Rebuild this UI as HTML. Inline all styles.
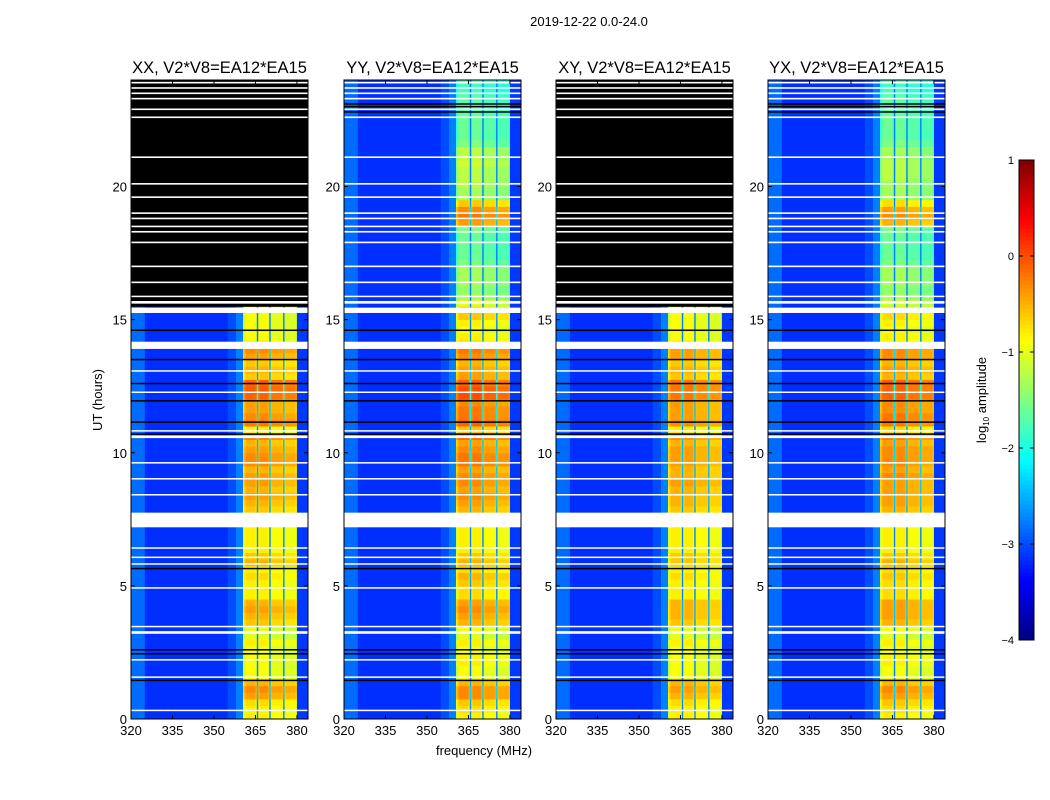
<!DOCTYPE html>
<html><head><meta charset="utf-8">
<style>
html,body{margin:0;padding:0;background:#fff;}
svg{display:block;font-family:"Liberation Sans","DejaVu Sans",sans-serif;}
</style></head>
<body>
<svg id="fig" width="1050" height="800" viewBox="0 0 1050 800">
<rect x="0" y="0" width="1050" height="800" fill="#fff"/>
<text x="589" y="26" font-size="13" text-anchor="middle">2019-12-22 0.0-24.0</text>
<text x="484" y="755" font-size="13" text-anchor="middle">frequency (MHz)</text>
<text transform="translate(102,400) rotate(-90)" font-size="13" text-anchor="middle">UT (hours)</text>
<g id="panels"></g>
<g id="cbar"></g>
</svg>
<script>
// ---- data ----
const N = null;
const panelTitles = ["XX, V2*V8=EA12*EA15","YY, V2*V8=EA12*EA15","XY, V2*V8=EA12*EA15","YX, V2*V8=EA12*EA15"];
const xTicks = [320,335,350,365,380];
const yTicks = [0,5,10,15,20];
const cbTicks = [1,0,-1,-2,-3,-4];
// channel baseline noise (log10), 128 channels of 0.5 MHz, 320..384 MHz
const noiseLevel = [
 -2.85,-2.85,-2.85,-2.85,-2.85,-2.85,-2.85,-2.85,-2.85,-2.85,-3.15,-3.15,-3.15,-3.15,-3.15,-3.15,
 -3.15,-3.15,-3.15,-3.15,-3.15,-3.15,-3.15,-3.15,-3.15,-3.15,-3.15,-3.15,-3.15,-3.15,-3.15,-3.15,
 -3.15,-3.15,-3.15,-3.15,-3.15,-3.15,-3.15,-3.15,-3.15,-3.15,-3.15,-3.15,-3.15,-3.15,-3.15,-3.15,
 -3.15,-3.15,-3.15,-3.15,-3.15,-3.15,-3.15,-3.15,-3.15,-3.15,-3.15,-3.15,-3.15,-3.15,-3.15,-3.15,
 -3.15,-3.15,-3.15,-3.15,-3.15,-3.15,-3.0,-3.0,-3.0,-3.0,-3.0,-3.0,-2.75,-2.75,-2.75,-2.75,
 -2.75,-2.75,-2.75,-2.75,-2.75,-2.75,-2.75,-2.75,-2.75,-2.75,-2.75,-2.75,-2.75,-2.75,-2.75,-2.75,
 -2.75,-2.75,-2.75,-2.75,-2.75,-2.75,-2.75,-2.75,-2.75,-2.75,-2.75,-2.75,-2.75,-2.75,-2.75,-2.75,
 -2.75,-2.75,-2.75,-2.75,-2.75,-2.75,-2.75,-2.75,-3.1,-3.1,-3.1,-3.1,-3.1,-3.1,-3.1,-3.1];
// in-band gain relative to row band level (null = outside band)
const bandGain = [
 N,N,N,N,N,N,N,N,N,N,N,N,N,N,N,N,
 N,N,N,N,N,N,N,N,N,N,N,N,N,N,N,N,
 N,N,N,N,N,N,N,N,N,N,N,N,N,N,N,N,
 N,N,N,N,N,N,N,N,N,N,N,N,N,N,N,N,
 N,N,N,N,N,N,N,N,N,N,N,N,N,N,N,N,
 N,-0.3,-0.1,0,0,0,0,0,0,0,-0.1,-2.0,-0.1,0,0,0,
 0,0,0,-0.1,-2.0,-0.15,-0.1,-0.1,-0.1,-0.1,-0.1,-0.1,-0.1,-0.15,-2.0,-0.2,
 -0.15,-0.15,-0.15,-0.15,-0.15,-0.15,-0.15,-0.25,N,N,N,N,N,N,N,N];
// band level per quarter hour (96 rows, 0..24h); null = no data (black)
const bandXX = [
 -0.8,-0.8,-0.7,-0.4,-0.3,-0.5,-0.9,-0.9,-0.9,-0.9,-0.9,-0.8,-1.0,-1.0,-0.6,-0.5,
 -0.4,-0.5,-0.8,-0.8,-0.8,-0.7,-0.8,-0.5,-0.6,-0.8,-0.8,-0.8,-0.8,-0.8,-0.8,-0.6,
 -0.5,-0.4,-0.5,-0.4,-0.4,-0.5,-0.3,-0.3,-0.4,-0.5,-0.2,-0.8,-0.2,-0.3,-0.4,-0.4,
 -0.1,-0.05,-0.1,-0.6,-0.5,-0.6,-0.4,-0.3,-0.8,-0.9,-0.9,-0.9,-0.9,-0.9,N,N,
 N,N,N,N,N,N,N,N,N,N,N,N,N,N,N,N,
 N,N,N,N,N,N,N,N,N,N,N,N,N,N,N,N];
const bandYY = [
 -0.8,-0.7,-0.6,-0.3,-0.3,-0.5,-0.9,-0.9,-0.8,-0.8,-0.9,-0.8,-1.0,-0.9,-0.5,-0.4,
 -0.3,-0.4,-0.7,-0.7,-0.6,-0.5,-0.7,-0.5,-0.6,-0.8,-0.8,-0.8,-0.8,-0.8,-0.8,-0.5,
 -0.4,-0.3,-0.4,-0.3,-0.3,-0.4,-0.2,-0.2,-0.3,-0.4,-0.1,-0.6,-0.1,-0.2,-0.2,-0.3,
 0.0,0.0,-0.1,-0.4,-0.4,-0.5,-0.3,-0.2,-0.7,-0.8,-0.9,-0.8,-0.6,-0.6,-1.0,-1.3,
 -1.4,-1.3,-1.3,-1.3,-1.5,-1.6,-1.6,-1.6,-1.6,-1.5,-0.4,-0.2,-0.3,-0.6,-1.3,-1.3,
 -1.2,-1.2,-1.2,-1.1,-1.2,-1.2,-1.5,-1.6,-1.6,-1.6,-1.6,-1.7,-1.7,-1.7,-1.8,-1.8];
const bandXY = [
 -0.8,-0.8,-0.7,-0.5,-0.4,-0.5,-0.9,-0.9,-0.9,-0.9,-0.9,-0.8,-1.0,-1.0,-0.6,-0.5,
 -0.5,-0.5,-0.8,-0.8,-0.8,-0.7,-0.8,-0.6,-0.6,-0.8,-0.8,-0.8,-0.8,-0.8,-0.8,-0.6,
 -0.5,-0.5,-0.5,-0.4,-0.5,-0.5,-0.4,-0.4,-0.4,-0.5,-0.3,-0.8,-0.3,-0.4,-0.4,-0.4,
 -0.2,-0.2,-0.2,-0.6,-0.5,-0.6,-0.4,-0.4,-0.8,-0.9,-0.9,-0.9,-0.9,-0.9,N,N,
 N,N,N,N,N,N,N,N,N,N,N,N,N,N,N,N,
 N,N,N,N,N,N,N,N,N,N,N,N,N,N,N,N];
const bandYX = [
 -0.8,-0.7,-0.6,-0.4,-0.3,-0.5,-0.9,-0.9,-0.8,-0.8,-0.9,-0.8,-1.0,-0.9,-0.5,-0.4,
 -0.4,-0.4,-0.7,-0.7,-0.7,-0.6,-0.7,-0.5,-0.6,-0.8,-0.8,-0.8,-0.8,-0.8,-0.8,-0.5,
 -0.4,-0.4,-0.4,-0.4,-0.3,-0.4,-0.3,-0.3,-0.3,-0.4,-0.2,-0.7,-0.2,-0.2,-0.3,-0.3,
 -0.1,-0.1,-0.1,-0.5,-0.4,-0.5,-0.3,-0.3,-0.8,-0.8,-0.9,-0.8,-0.7,-0.7,-1.1,-1.3,
 -1.4,-1.3,-1.3,-1.3,-1.5,-1.6,-1.6,-1.6,-1.6,-1.5,-0.5,-0.3,-0.4,-0.7,-1.3,-1.3,
 -1.3,-1.2,-1.2,-1.2,-1.3,-1.3,-1.5,-1.6,-1.6,-1.6,-1.6,-1.7,-1.7,-1.7,-1.8,-1.8];
// flagged (white) time intervals hours
const whiteStart = [7.2,13.9,15.25,0.3,1.55,2.2,3.2,3.45,4.9,5.8,6.05,6.4,8.4,9.0,9.6,10.55,10.8,12.25,13.05,15.6,15.85];
const whiteEnd   = [7.75,14.17,15.45,0.35,1.6,2.25,3.3,3.5,4.95,5.85,6.1,6.45,8.45,9.05,9.65,10.65,10.85,12.3,13.1,15.7,15.9];
// thin white lines in upper (15.5-24h) region
const upperWhite = [16.4,17.0,17.9,18.3,18.5,18.8,19.0,19.6,20.1,21.1,22.6,22.9,23.3,23.5,23.7,23.9];
// thin black (zero) lines
const blackRows = [1.45,2.45,2.6,5.65,10.7,11.15,11.95,12.6,13.5,14.6,22.8,23.0,23.1];

// ---- layout ----
const axLeft = [131,344,556,768], axW = 177, axTop = 80, axBot = 719;
const fMin = 320, fMax = 384, tMin = 0, tMax = 24, chW = 0.5;
const bands = [bandXX,bandYY,bandXY,bandYX];
const NS = "http://www.w3.org/2000/svg";
function xS(p,f){return axLeft[p] + (f-fMin)/(fMax-fMin)*axW;}
function yS(t){return axBot - (t-tMin)/(tMax-tMin)*(axBot-axTop);}
function jet(v){
  let t=(v+4)/5; t=Math.max(0,Math.min(1,t));
  const c=x=>Math.round(255*Math.max(0,Math.min(1,x)));
  return `rgb(${c(1.5-Math.abs(4*t-3))},${c(1.5-Math.abs(4*t-2))},${c(1.5-Math.abs(4*t-1))})`;
}
function mk(tag,attrs,parent){const e=document.createElementNS(NS,tag);for(const k in attrs)e.setAttribute(k,attrs[k]);parent.appendChild(e);return e;}
function cellValue(band,r,c){
  let v=noiseLevel[c];
  if(bandGain[c]!==null) v=Math.max(v,band[r]+bandGain[c]);
  return v;
}

const panelsG=document.getElementById('panels');
for(let p=0;p<4;p++){
  const g=mk('g',{},panelsG);
  
  
  const band=bands[p];
  const nRows=band.length, dt=(tMax-tMin)/nRows;
  for(let r=0;r<nRows;r++){
    const t0=r*dt, y1=yS(t0), y0=yS(t0+dt);
    if(band[r]===null){
      const e=mk('rect',{x:axLeft[p],y:y0,width:axW,height:y1-y0+0.5,fill:'#000'},g);
      
      
      continue;
    }
    let c=0;
    while(c<noiseLevel.length){
      const v=cellValue(band,r,c);
      let c2=c+1;
      while(c2<noiseLevel.length && cellValue(band,r,c2)===v) c2++;
      const x0=xS(p,fMin+c*chW), x1=xS(p,fMin+c2*chW);
      const e=mk('rect',{x:x0,y:y0,width:x1-x0+0.3,height:y1-y0+0.4,fill:jet(v)},g);
      
      
      c=c2;
    }
  }
  for(let i=0;i<blackRows.length;i++){
    const e=mk('rect',{x:axLeft[p],y:yS(blackRows[i])-0.75,width:axW,height:1.5,fill:'#000'},g);
    
    
  }
  for(let i=0;i<whiteStart.length;i++){
    const ya=yS(whiteEnd[i]), yb=yS(whiteStart[i]);
    const e=mk('rect',{x:axLeft[p],y:ya,width:axW,height:Math.max(1.5,yb-ya),fill:'#fff'},g);
    
    
  }
  for(let i=0;i<upperWhite.length;i++){
    const e=mk('rect',{x:axLeft[p],y:yS(upperWhite[i])-0.8,width:axW,height:1.6,fill:'#fff'},g);
    
    
  }
  const fr=mk('rect',{x:axLeft[p],y:axTop,width:axW,height:axBot-axTop,fill:'none',stroke:'#000','stroke-width':1},g);
  
  
  const tt=mk('text',{x:axLeft[p]+axW/2,y:73,'font-size':16.5,'text-anchor':'middle'},g);
  tt.textContent=panelTitles[p];
  
  
  for(const f of xTicks){
    const x=xS(p,f);
    mk('line',{x1:x,x2:x,y1:axBot,y2:axBot-4,stroke:'#000'},g);
    mk('line',{x1:x,x2:x,y1:axTop,y2:axTop+4,stroke:'#000'},g);
    const l=mk('text',{x:x,y:axBot+16,'font-size':13,'text-anchor':'middle'},g);
    l.textContent=f;
    
    
  }
  for(const t of yTicks){
    const y=yS(t);
    mk('line',{x1:axLeft[p],x2:axLeft[p]+4,y1:y,y2:y,stroke:'#000'},g);
    mk('line',{x1:axLeft[p]+axW,x2:axLeft[p]+axW-4,y1:y,y2:y,stroke:'#000'},g);
    const l=mk('text',{x:axLeft[p]-4,y:y+5,'font-size':13,'text-anchor':'end'},g);
    l.textContent=t;
    
    
  }
}
// colorbar
const cb=document.getElementById('cbar');
const cbX=1019, cbW=15, cbTop=160, cbBot=640;
for(let i=0;i<120;i++){
  const v=-4+5*(i+0.5)/120;
  const y=cbBot-(i+1)*(cbBot-cbTop)/120;
  const e=mk('rect',{x:cbX,y:y,width:cbW,height:(cbBot-cbTop)/120+0.5,fill:jet(v)},cb);
  
  
}
mk('rect',{x:cbX,y:cbTop,width:cbW,height:cbBot-cbTop,fill:'none',stroke:'#000'},cb);
for(const v of cbTicks){
  const y=cbBot-(v+4)/5*(cbBot-cbTop);
  mk('line',{x1:cbX,x2:cbX+4,y1:y,y2:y,stroke:'#000'},cb);
  mk('line',{x1:cbX+cbW,x2:cbX+cbW-4,y1:y,y2:y,stroke:'#000'},cb);
  const l=mk('text',{x:cbX-5,y:y+4,'font-size':11,'text-anchor':'end'},cb);
  l.textContent=(v<0?'\u2212'+(-v):v);
  
  
}
const cl=mk('text',{transform:'translate(986,400) rotate(-90)','font-size':13,'text-anchor':'middle'},cb);
cl.innerHTML='log<tspan font-size="8" dy="3">10</tspan><tspan dy="-3"> amplitude</tspan>';


</script>
</body></html>
